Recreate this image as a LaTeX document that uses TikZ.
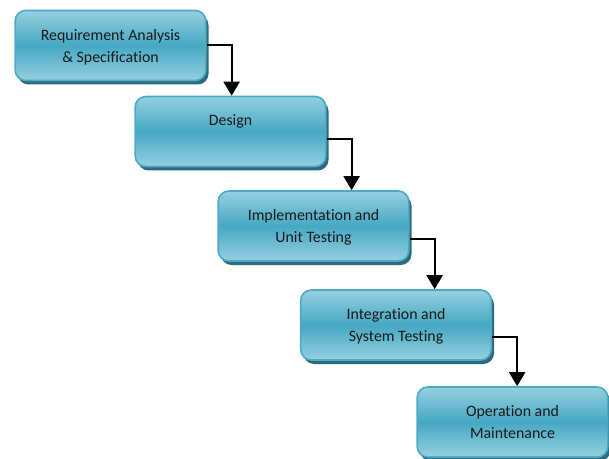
\documentclass[tikz,border=0pt]{standalone}
\usepackage{fontspec}
\setmainfont{Carlito}[Ligatures=CommonOff]
\usepackage{tikz}
\usetikzlibrary{arrows.meta,shadows}
\definecolor{boxlight}{HTML}{94D0DF}
\definecolor{boxmid}{HTML}{46A8C3}
\definecolor{boxline}{HTML}{4DAAC5}
\definecolor{boxshade}{HTML}{2D6B7C}

\begin{document}
\begin{tikzpicture}[x=0.75pt,y=-0.75pt,
                every node/.style = {minimum width=143pt, minimum height=52.5pt,
                    rounded corners=8pt, draw=boxline, line width=1.2pt,
                    top color=boxlight, bottom color=boxlight, middle color=boxmid,
                    drop shadow={shadow xshift=2pt, shadow yshift=-3pt, fill=boxshade, opacity=1},
                    align=center, text depth=0pt, text=black!90, font=\fontsize{11.9}{16.5}\selectfont},
                flow/.style = {draw, line width=1.5pt, -{Triangle[width=12pt,length=10.5pt]}}]
    \useasboundingbox (0,0) rectangle (609,459);
    \node (req) at (110.5,45.5) {Requirement Analysis\\\& Specification};
    \node (design) at (230.5,131.5) {Design\\\strut};
    \node (impl) at (313.5,226) {Implementation and\\Unit Testing};
    \node (integ) at (396,325) {Integration and\\System Testing};
    \node (oper) at (512.5,422) {Operation and\\Maintenance};
    % steps
    \draw[flow] (req.east) -- ++(25,0) coordinate (k1) -- (k1 |- design.north);
    \draw[flow] ([yshift=-6pt]design.east) -- ++(25,0) coordinate (k2) -- (k2 |- impl.north);
    \draw[flow] ([yshift=-9.75pt]impl.east) -- ++(25,0) coordinate (k3) -- (k3 |- integ.north);
    \draw[flow] ([yshift=-9pt]integ.east) -- ++(25,0) coordinate (k4) -- (k4 |- oper.north);
\end{tikzpicture}
\end{document}
